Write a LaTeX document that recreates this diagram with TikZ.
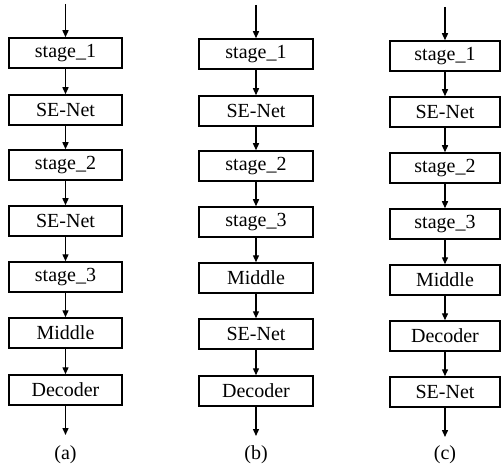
\documentclass[tikz,border=0pt]{standalone}
\usepackage{fontspec}
\setmainfont{Liberation Serif}
\usetikzlibrary{arrows.meta}
\begin{document}
\begin{tikzpicture}[x=1pt,y=-1pt,
  blk/.style={draw, line width=1.5pt, minimum width=#1, minimum height=30pt,
    inner sep=0pt, font=\fontsize{20}{22}\selectfont},
  blk/.default=113pt,
  flow/.style={-{Triangle[length=7pt,width=6pt]}, line width=1.4pt},
  lbl/.style={font=\fontsize{20}{22}\selectfont}]
\useasboundingbox (0,0) rectangle (501,468);

% (a) SE-Net after stage 1 and stage 2
\foreach \i/\y/\txt in {1/53/stage\_1, 2/110/SE-Net, 3/165/stage\_2, 4/221/SE-Net,
    5/277/stage\_3, 6/333/Middle, 7/390/Decoder}
  \node[blk] (a\i) at (65.5,\y) {\txt};
\coordinate (ain) at (65.5,4);
\coordinate (aout) at (65.5,435);
\draw[flow] (ain) -- (a1);
\foreach \i [evaluate=\i as \j using int(\i+1)] in {1,...,6}
  \draw[flow] (a\i) -- (a\j);
\draw[flow] (a7) -- (aout);
\node[lbl] (la) at (65.5,455) {(a)};

% (b) SE-Net between Middle and Decoder
\foreach \i/\y/\txt in {1/54/stage\_1, 2/111/SE-Net, 3/166/stage\_2, 4/222/stage\_3,
    5/278/Middle, 6/334/SE-Net, 7/391/Decoder}
  \node[blk=114pt] (b\i) at (256,\y) {\txt};
\coordinate (bin) at (256,5);
\coordinate (bout) at (256,436);
\draw[flow] (bin) -- (b1);
\foreach \i [evaluate=\i as \j using int(\i+1)] in {1,...,6}
  \draw[flow] (b\i) -- (b\j);
\draw[flow] (b7) -- (bout);
\node[lbl] (lb) at (256,455) {(b)};

% (c) SE-Net after the decoder
\foreach \i/\y/\txt in {1/56/stage\_1, 2/112/SE-Net, 3/168/stage\_2, 4/224/stage\_3,
    5/280/Middle, 6/336/Decoder, 7/392/SE-Net}
  \node[blk=110pt] (c\i) at (445,\y) {\txt};
\coordinate (cin) at (445,7);
\coordinate (cout) at (445,437);
\draw[flow] (cin) -- (c1);
\foreach \i [evaluate=\i as \j using int(\i+1)] in {1,...,6}
  \draw[flow] (c\i) -- (c\j);
\draw[flow] (c7) -- (cout);
\node[lbl] (lc) at (445,455) {(c)};
\end{tikzpicture}
\end{document}
